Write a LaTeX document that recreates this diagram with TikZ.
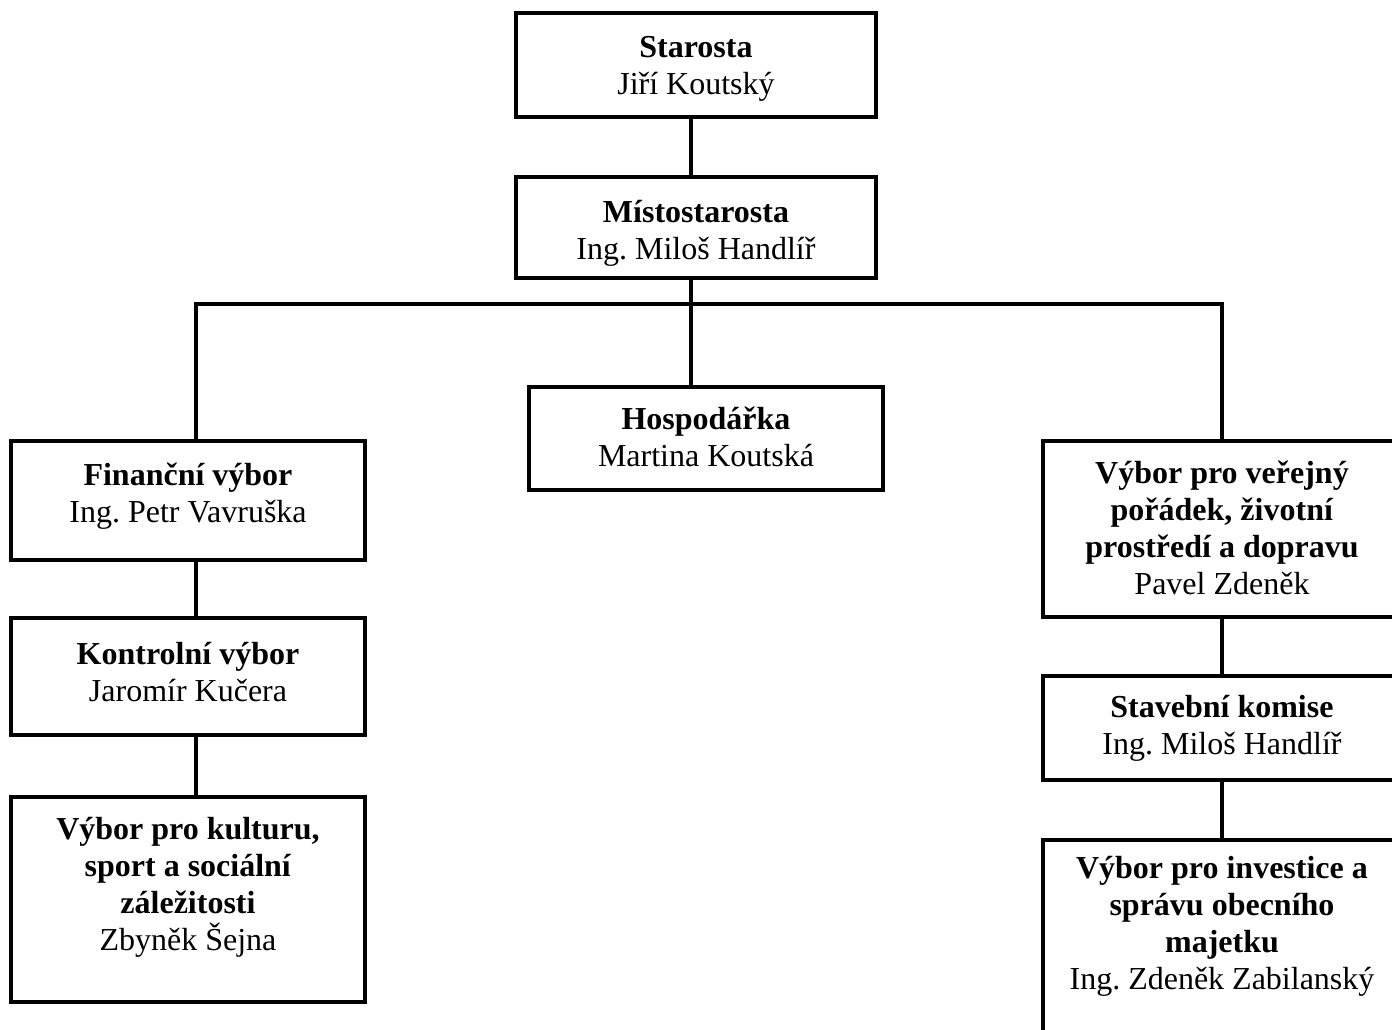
\documentclass[tikz,border=0pt]{standalone}
\usepackage{fontspec}
\setmainfont{Liberation Serif}
\frenchspacing
\begin{document}
\begin{tikzpicture}[x=1pt,y=-1pt,
  box/.style={draw=black,line width=3.3pt,rectangle,inner sep=0pt,outer sep=0pt},
  txt/.style={align=center,inner sep=0pt,font=\fontsize{32}{37}\selectfont},
  conn/.style={draw=black,line width=3.3pt,line join=miter}]
\useasboundingbox (0,0) rectangle (1392,1030);
\clip (0,0) rectangle (1392,1030);
\fill[white] (0,0) rectangle (1392,1030);
% boxes
\node[box,minimum width=360pt,minimum height=104pt] (sta) at (696,65) {};
\node[box,minimum width=360pt,minimum height=101pt] (mis) at (696,227.5) {};
\node[box,minimum width=354pt,minimum height=103pt] (hos) at (706,438.5) {};
\node[box,minimum width=354pt,minimum height=119pt] (fin) at (188,500.5) {};
\node[box,minimum width=354pt,minimum height=117pt] (kon) at (188,676.5) {};
\node[box,minimum width=354pt,minimum height=205pt] (kul) at (188,899.5) {};
\node[box,minimum width=358pt,minimum height=176pt] (ver) at (1222,529) {};
\node[box,minimum width=358pt,minimum height=104pt] (stk) at (1222,728) {};
\node[box,minimum width=358pt,minimum height=210pt] (inv) at (1222,945) {};
% texts
\node[txt] (tsta) at (696,69) {\textbf{Starosta}\\Jiří Koutský};
\node[txt] (tmis) at (696,233) {\textbf{Místostarosta}\\Ing. Miloš Handlíř};
\node[txt] (thos) at (706,437) {\textbf{Hospodářka}\\Martina Koutská};
\node[txt] (tfin) at (188,496) {\textbf{Finanční výbor}\\Ing. Petr Vavruška};
\node[txt] (tkon) at (188,672) {\textbf{Kontrolní výbor}\\Jaromír Kučera};
\node[txt] (tkul) at (188,887) {\textbf{Výbor pro kulturu,}\\\textbf{sport a sociální}\\\textbf{záležitosti}\\Zbyněk Šejna};
\node[txt] (tver) at (1222,528) {\textbf{Výbor pro veřejný}\\\textbf{pořádek, životní}\\\textbf{prostředí a dopravu}\\Pavel Zdeněk};
\node[txt] (tstk) at (1222,728) {\textbf{Stavební komise}\\Ing. Miloš Handlíř};
\node[txt] (tinv) at (1222,926) {\textbf{Výbor pro investice a}\\\textbf{správu obecního}\\\textbf{majetku}\\Ing. Zdeněk Zabilanský};
% connectors
\coordinate (bus) at (691,304);
\coordinate (busL) at (196,304);
\coordinate (busR) at (1222,304);
\path[conn] (sta.south -| bus) -- (mis.north -| bus);
\path[conn] (mis.south -| bus) -- (hos.north -| bus);
\path[conn] (fin.north -| busL) -- (busL) -- (busR) -- (ver.north);
\path[conn] (fin.south -| busL) -- (kon.north -| busL);
\path[conn] (kon.south -| busL) -- (kul.north -| busL);
\path[conn] (ver.south) -- (stk.north);
\path[conn] (stk.south) -- (inv.north);
\end{tikzpicture}
\end{document}
